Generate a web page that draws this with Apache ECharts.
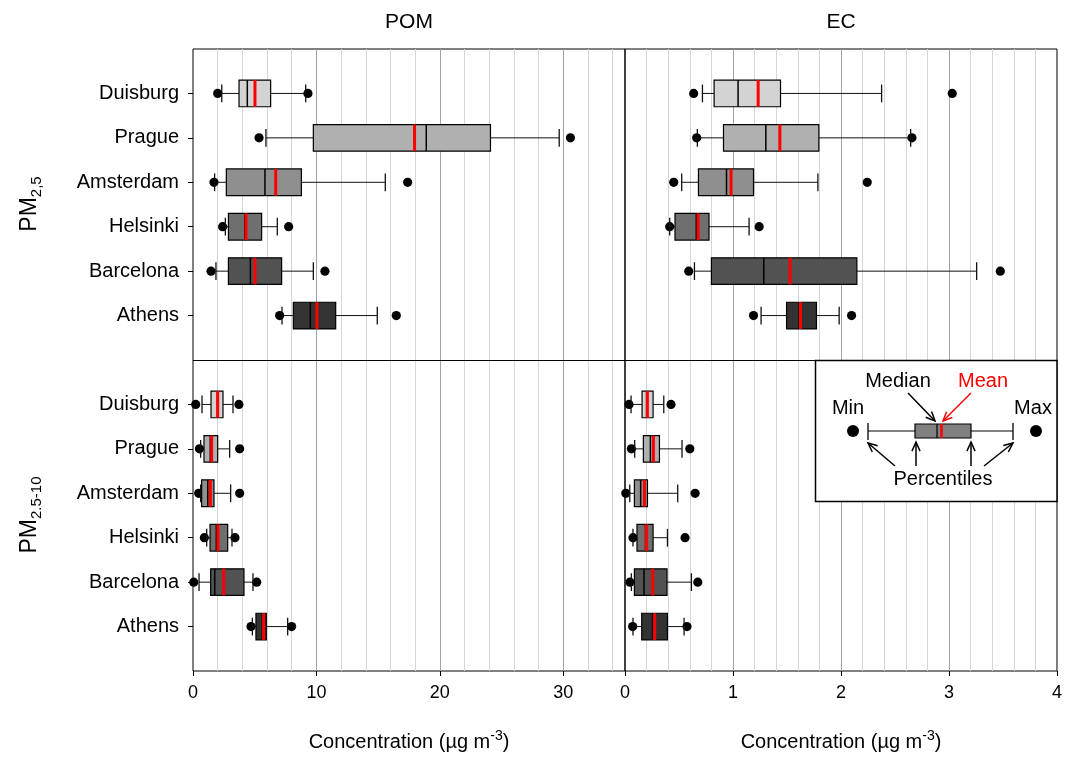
<!DOCTYPE html>
<html>
<head>
<meta charset="utf-8">
<script src="https://cdn.jsdelivr.net/npm/echarts@6/dist/echarts.min.js"></script>
<style>html,body{margin:0;padding:0;background:#fff}#c{width:1065px;height:757px}</style>
</head>
<body>
<div id="c"></div>
<script>
// ---- DATA ----
const cities = ['Duisburg', 'Prague', 'Amsterdam', 'Helsinki', 'Barcelona', 'Athens'];
const pomTicks = [0, 10, 20, 30];
const ecTicks = [0, 1, 2, 3, 4];
// each row: [min, lowPercentile, q1, median, mean, q3, highPercentile, max]
const pomPm25 = [
  [2.0, 2.33, 3.73, 4.4, 5.02, 6.29, 9.13, 9.31],
  [5.35, 5.91, 9.75, 18.9, 17.95, 24.1, 29.67, 30.58],
  [1.70, 1.75, 2.70, 5.83, 6.70, 8.78, 15.58, 17.39],
  [2.40, 2.62, 2.87, 4.2, 4.29, 5.56, 6.83, 7.75],
  [1.46, 1.86, 2.87, 4.65, 5.02, 7.18, 9.75, 10.69],
  [7.02, 7.21, 8.13, 9.51, 10.04, 11.56, 14.93, 16.47]
];
const ecPm25 = [
  [0.636, 0.717, 0.825, 1.047, 1.233, 1.44, 2.376, 3.03],
  [0.664, 0.67, 0.912, 1.304, 1.434, 1.795, 2.645, 2.657],
  [0.451, 0.525, 0.68, 0.94, 0.982, 1.19, 1.786, 2.243],
  [0.414, 0.414, 0.463, 0.66, 0.677, 0.778, 1.149, 1.242],
  [0.59, 0.643, 0.80, 1.285, 1.529, 2.147, 3.256, 3.475],
  [1.19, 1.26, 1.496, 1.61, 1.625, 1.773, 1.983, 2.098]
];
const pomPm2510 = [
  [0.22, 0.73, 1.46, 1.98, 2.0, 2.43, 3.24, 3.72],
  [0.52, 0.62, 0.89, 1.4, 1.51, 2.0, 2.97, 3.78],
  [0.46, 0.62, 0.70, 1.2, 1.41, 1.70, 3.05, 3.78],
  [0.92, 1.11, 1.38, 1.89, 2.02, 2.81, 3.16, 3.40],
  [0.06, 0.49, 1.43, 1.76, 2.49, 4.13, 4.86, 5.16],
  [4.70, 4.81, 5.10, 5.62, 5.72, 5.94, 7.67, 7.99]
];
const ecPm2510 = [
  [0.037, 0.056, 0.158, 0.20, 0.207, 0.26, 0.359, 0.426],
  [0.059, 0.09, 0.17, 0.235, 0.263, 0.319, 0.528, 0.60],
  [0.007, 0.044, 0.087, 0.145, 0.18, 0.208, 0.488, 0.649],
  [0.074, 0.074, 0.111, 0.19, 0.198, 0.26, 0.393, 0.556],
  [0.046, 0.059, 0.087, 0.176, 0.257, 0.389, 0.615, 0.674],
  [0.071, 0.074, 0.155, 0.254, 0.275, 0.393, 0.547, 0.574]
];

// ---- STYLE ----
const FONT = '"Liberation Sans", Arial, sans-serif';
const boxColors = ['#d3d3d3', '#b0b0b0', '#8f8f8f', '#6f6f6f', '#525252', '#333333'];
const MINOR = '#d6d6d6', MAJOR = '#a3a3a3';
const BLOCK = 7; // row offset of the PM2.5-10 block on the shared vertical axis

const chart = echarts.init(document.getElementById('c'), null, {renderer: 'canvas'});

function renderBox(params, api) {
  const pos = api.value(0);
  const ci = pos % BLOCK;
  const X = k => api.coord([api.value(k), pos])[0];
  const y = api.coord([0, pos])[1];
  const h = api.size([0, 1])[1];
  const bh = h * 0.6, ch = h * 0.4;
  const mn = X(1), wl = X(2), q1 = X(3), md = X(4), mean = X(5), q3 = X(6), wh = X(7), mx = X(8);
  const ln = (x1, y1, x2, y2, stroke, w) => ({type: 'line', shape: {x1, y1, x2, y2}, style: {stroke, lineWidth: w}});
  return {
    type: 'group',
    children: [
      {type: 'circle', shape: {cx: mn, cy: y, r: 4.6}, style: {fill: '#000'}},
      {type: 'circle', shape: {cx: mx, cy: y, r: 4.6}, style: {fill: '#000'}},
      ln(wl, y, q1, y, '#111', 1),
      ln(q3, y, wh, y, '#111', 1),
      ln(wl, y - ch / 2, wl, y + ch / 2, '#111', 1.3),
      ln(wh, y - ch / 2, wh, y + ch / 2, '#111', 1.3),
      {type: 'rect', shape: {x: q1, y: y - bh / 2, width: q3 - q1, height: bh},
        style: {fill: boxColors[ci], stroke: '#000', lineWidth: 1.2}},
      ln(md, y - bh / 2, md, y + bh / 2, '#000', 1.5),
      ln(mean, y - bh / 2, mean, y + bh / 2, '#ff0000', 3)
    ]
  };
}

function toData(arr, offset) { return arr.map((r, i) => [i + offset].concat(r)); }

const grids = [
  {left: 193, top: 49, width: 432, height: 622},
  {left: 625, top: 49, width: 432, height: 622}
].map(g => Object.assign(g, {show: true, borderColor: '#000', borderWidth: 1, backgroundColor: 'transparent'}));

// axis carrying the scale, ticks and labels
function xMain(gi, isPom) {
  return {
    type: 'value', gridIndex: gi, min: 0, max: isPom ? 35 : 4, interval: isPom ? 10 : 1, z: 3,
    position: 'bottom',
    axisLine: {show: false, onZero: false},
    axisTick: {show: true, length: 5, lineStyle: {color: '#000'}},
    axisLabel: {show: true, showMaxLabel: !isPom, fontSize: 18, color: '#000', fontFamily: FONT, margin: 13,
      formatter: v => ((isPom ? pomTicks : ecTicks).indexOf(v) >= 0 ? String(v) : '')},
    splitLine: {show: false}
  };
}
// helper axes: gridlines only
function xGridlines(gi, isPom, major) {
  return {
    type: 'value', gridIndex: gi, min: 0, max: isPom ? 35 : 4,
    interval: major ? (isPom ? 10 : 1) : (isPom ? 2 : 0.2), z: major ? 2 : 1,
    position: 'top',
    axisLine: {show: false, onZero: false}, axisTick: {show: false}, axisLabel: {show: false},
    splitLine: {show: true, showMinLine: false, showMaxLine: false,
      lineStyle: {color: major ? MAJOR : MINOR, width: 1}}
  };
}
const rowValues = [0, 1, 2, 3, 4, 5].concat([0, 1, 2, 3, 4, 5].map(v => v + BLOCK));
function yAxis(gi, left) {
  return {
    type: 'value', gridIndex: gi, inverse: true, min: -1, max: 2 * BLOCK - 1, interval: 1,
    axisLine: {show: false, onZero: false},
    axisTick: {show: left, customValues: rowValues, length: 5, lineStyle: {color: '#000'}},
    axisLabel: {show: left, customValues: rowValues, formatter: v => cities[v % BLOCK] || '',
      fontSize: 20, color: '#000', fontFamily: FONT, margin: 14},
    splitLine: {show: false}
  };
}

const panelDefs = [
  {data: pomPm25, axis: 0, offset: 0},
  {data: ecPm25, axis: 1, offset: 0},
  {data: pomPm2510, axis: 0, offset: BLOCK},
  {data: ecPm2510, axis: 1, offset: BLOCK}
];
const series = panelDefs.map((p, i) => ({
  type: 'custom', xAxisIndex: p.axis, yAxisIndex: p.axis, renderItem: renderBox,
  encode: {x: [1, 2, 3, 4, 5, 6, 7, 8], y: 0}, data: toData(p.data, p.offset), clip: false, z: 3,
  markLine: i < 2 ? {silent: true, symbol: 'none', label: {show: false}, z: 4,
    lineStyle: {color: '#000', width: 1, type: 'solid'}, emphasis: {disabled: true},
    data: [{yAxis: BLOCK - 1}]} : undefined
}));

function arrow(x1, y1, x2, y2, color) {
  const a = Math.atan2(y2 - y1, x2 - x1), L = 10, s = 0.42;
  return [
    {type: 'line', shape: {x1, y1, x2, y2}, style: {stroke: color, lineWidth: 1.5}},
    {type: 'polyline', shape: {points: [
      [x2 - L * Math.cos(a - s), y2 - L * Math.sin(a - s)], [x2, y2],
      [x2 - L * Math.cos(a + s), y2 - L * Math.sin(a + s)]]},
      style: {stroke: color, fill: null, lineWidth: 1.5}}
  ];
}
function txt(x, y, text, opts) {
  return {type: 'text', x, y, style: Object.assign({text, fill: '#000', font: '20px ' + FONT,
    align: 'center', verticalAlign: 'middle'}, opts || {})};
}

const legend = [
  {type: 'rect', shape: {x: 815.5, y: 360.5, width: 241.5, height: 141}, style: {fill: '#fff', stroke: '#000', lineWidth: 1.5}},
  {type: 'line', shape: {x1: 868, y1: 431, x2: 1013, y2: 431}, style: {stroke: '#000', lineWidth: 1}},
  {type: 'line', shape: {x1: 868, y1: 423, x2: 868, y2: 440}, style: {stroke: '#000', lineWidth: 1.3}},
  {type: 'line', shape: {x1: 1013, y1: 423, x2: 1013, y2: 440}, style: {stroke: '#000', lineWidth: 1.3}},
  {type: 'rect', shape: {x: 915, y: 424, width: 56, height: 14}, style: {fill: '#808080', stroke: '#000', lineWidth: 1.2}},
  {type: 'line', shape: {x1: 937, y1: 424, x2: 937, y2: 438}, style: {stroke: '#000', lineWidth: 1.2}},
  {type: 'line', shape: {x1: 941.5, y1: 424, x2: 941.5, y2: 438}, style: {stroke: '#ff0000', lineWidth: 2.5}},
  {type: 'circle', shape: {cx: 853, cy: 431, r: 6}, style: {fill: '#000'}},
  {type: 'circle', shape: {cx: 1036, cy: 431, r: 6}, style: {fill: '#000'}},
  txt(848, 408, 'Min'), txt(1033, 408, 'Max'),
  txt(898, 381, 'Median'), txt(983, 381, 'Mean', {fill: '#ff0000'}),
  txt(943, 479, 'Percentiles')
].concat(arrow(908, 393, 935, 421, '#000'), arrow(971, 393, 943, 421, '#ff0000'),
  arrow(895, 466, 868, 443, '#000'), arrow(916, 466, 916, 442, '#000'),
  arrow(971, 466, 971, 442, '#000'), arrow(984, 466, 1013, 443, '#000'))
  .map(e => Object.assign(e, {z: 100}));

const richPM = {
  a: {fontSize: 23, fontFamily: FONT, fill: '#000'},
  s: {fontSize: 15, fontFamily: FONT, fill: '#000', padding: [14, 0, 0, 0]}
};
const richUnit = {
  a: {fontSize: 20, fontFamily: FONT, fill: '#000'},
  p: {fontSize: 14, fontFamily: FONT, fill: '#000', padding: [0, 0, 12, 0]}
};

const graphic = [
  txt(409, 22, 'POM', {font: '21px ' + FONT}),
  txt(841, 22, 'EC', {font: '21px ' + FONT}),
  {type: 'text', x: 30, y: 204, rotation: Math.PI / 2,
    style: {text: '{a|PM}{s|2,5}', rich: richPM, align: 'center', verticalAlign: 'middle'}},
  {type: 'text', x: 30, y: 515, rotation: Math.PI / 2,
    style: {text: '{a|PM}{s|2.5-10}', rich: richPM, align: 'center', verticalAlign: 'middle'}},
  {type: 'text', x: 409, y: 742,
    style: {text: '{a|Concentration (µg m}{p|-3}{a|)}', rich: richUnit, align: 'center', verticalAlign: 'middle'}},
  {type: 'text', x: 841, y: 742,
    style: {text: '{a|Concentration (µg m}{p|-3}{a|)}', rich: richUnit, align: 'center', verticalAlign: 'middle'}}
].concat(legend);

chart.setOption({
  animation: false,
  backgroundColor: '#fff',
  grid: grids,
  xAxis: [xMain(0, true), xMain(1, false),
          xGridlines(0, true, false), xGridlines(1, false, false),
          xGridlines(0, true, true), xGridlines(1, false, true)],
  yAxis: [yAxis(0, true), yAxis(1, false)],
  series: series,
  graphic: graphic
});
</script>
</body>
</html>
